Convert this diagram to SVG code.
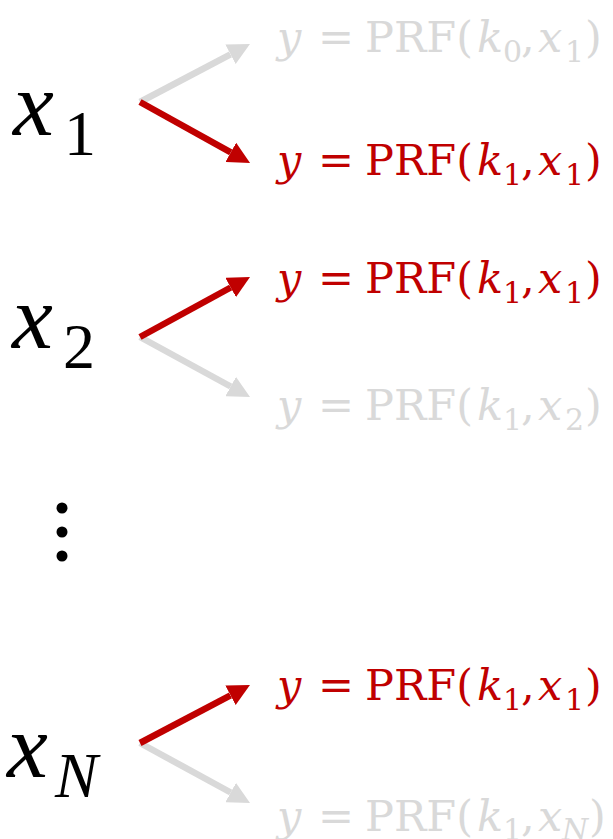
<svg xmlns="http://www.w3.org/2000/svg" width="613" height="839" viewBox="0 0 613 839">
<defs>
<style>
text{font-family:"Liberation Serif","Times New Roman",serif;}
.lab{font-family:"DejaVu Serif","Liberation Serif",serif;font-size:43px;}
.sub{font-size:30px;}
.i{font-style:italic;}
.red{fill:#C00000;}
.gray{fill:#D9D9D9;}
.blk{fill:#000000;}
.big{font-size:92px;}
.bsub{font-size:64px;}
.ar{stroke-width:6.5;fill:none;stroke-linecap:butt;}
.ar.r{stroke:#C00000;}
.ar.g{stroke:#D9D9D9;}
</style>
<marker id="hr" markerUnits="userSpaceOnUse" markerWidth="22" markerHeight="22" viewBox="0 0 22 22" refX="0" refY="11" orient="auto"><path d="M0,0 L22,11 L0,22 z" fill="#C00000"/></marker>
<marker id="hg" markerUnits="userSpaceOnUse" markerWidth="22" markerHeight="22" viewBox="0 0 22 22" refX="0" refY="11" orient="auto"><path d="M0,0 L22,11 L0,22 z" fill="#D9D9D9"/></marker>
</defs>
<rect width="613" height="839" fill="#FFFFFF"/>

<g id="connectors">
<line class="ar g" x1="140" y1="102" x2="230.5" y2="54.3" marker-end="url(#hg)"/>
<line class="ar r" x1="140" y1="102" x2="230.8" y2="152.3" marker-end="url(#hr)"/>
<line class="ar g" x1="140" y1="337" x2="230.7" y2="386.5" marker-end="url(#hg)"/>
<line class="ar r" x1="140" y1="337" x2="230.7" y2="287.5" marker-end="url(#hr)"/>
<line class="ar g" x1="140" y1="743" x2="230.7" y2="792.5" marker-end="url(#hg)"/>
<line class="ar r" x1="140" y1="743" x2="230.5" y2="695.3" marker-end="url(#hr)"/>
</g>

<g id="x1">
<text class="blk"><tspan class="big i" x="13" y="135">x</tspan><tspan class="bsub" x="64" y="155">1</tspan></text>
</g>
<g id="x2">
<text class="blk"><tspan class="big i" x="12" y="348">x</tspan><tspan class="bsub" x="63" y="368">2</tspan></text>
</g>
<g id="dots">
<circle cx="62" cy="508" r="5.5" fill="#000"/>
<circle cx="62" cy="532" r="5.5" fill="#000"/>
<circle cx="62" cy="556" r="5.5" fill="#000"/>
</g>
<g id="xN">
<text class="blk"><tspan class="big i" x="7" y="777">x</tspan><tspan class="bsub i" x="55" y="797">N</tspan></text>
</g>

<g id="out1a">
<text class="lab gray"><tspan class="i" x="277" y="52">y</tspan><tspan x="318" y="52">=</tspan><tspan x="365" y="52">PRF(</tspan><tspan class="i" x="477" y="52">k</tspan><tspan class="sub" x="503" y="62">0</tspan><tspan x="521" y="52">,</tspan><tspan class="i" x="538" y="52">x</tspan><tspan class="sub" x="565" y="62">1</tspan><tspan x="585" y="52">)</tspan></text>
</g>
<g id="out1b">
<text class="lab red"><tspan class="i" x="277" y="175">y</tspan><tspan x="318" y="175">=</tspan><tspan x="365" y="175">PRF(</tspan><tspan class="i" x="477" y="175">k</tspan><tspan class="sub" x="503" y="185">1</tspan><tspan x="521" y="175">,</tspan><tspan class="i" x="538" y="175">x</tspan><tspan class="sub" x="565" y="185">1</tspan><tspan x="585" y="175">)</tspan></text>
</g>
<g id="out2a">
<text class="lab red"><tspan class="i" x="277" y="293">y</tspan><tspan x="318" y="293">=</tspan><tspan x="365" y="293">PRF(</tspan><tspan class="i" x="477" y="293">k</tspan><tspan class="sub" x="503" y="303">1</tspan><tspan x="521" y="293">,</tspan><tspan class="i" x="538" y="293">x</tspan><tspan class="sub" x="565" y="303">1</tspan><tspan x="585" y="293">)</tspan></text>
</g>
<g id="out2b">
<text class="lab gray"><tspan class="i" x="277" y="420">y</tspan><tspan x="318" y="420">=</tspan><tspan x="365" y="420">PRF(</tspan><tspan class="i" x="477" y="420">k</tspan><tspan class="sub" x="503" y="430">1</tspan><tspan x="521" y="420">,</tspan><tspan class="i" x="538" y="420">x</tspan><tspan class="sub" x="565" y="430">2</tspan><tspan x="585" y="420">)</tspan></text>
</g>
<g id="outNa">
<text class="lab red"><tspan class="i" x="277" y="700">y</tspan><tspan x="318" y="700">=</tspan><tspan x="365" y="700">PRF(</tspan><tspan class="i" x="477" y="700">k</tspan><tspan class="sub" x="503" y="710">1</tspan><tspan x="521" y="700">,</tspan><tspan class="i" x="538" y="700">x</tspan><tspan class="sub" x="565" y="710">1</tspan><tspan x="585" y="700">)</tspan></text>
</g>
<g id="outNb">
<text class="lab gray"><tspan class="i" x="277" y="831">y</tspan><tspan x="318" y="831">=</tspan><tspan x="365" y="831">PRF(</tspan><tspan class="i" x="477" y="831">k</tspan><tspan class="sub" x="503" y="840">1</tspan><tspan x="521" y="831">,</tspan><tspan class="i" x="538" y="831">x</tspan><tspan class="sub i" x="562" y="840">N</tspan><tspan x="589" y="831">)</tspan></text>
</g>
</svg>
